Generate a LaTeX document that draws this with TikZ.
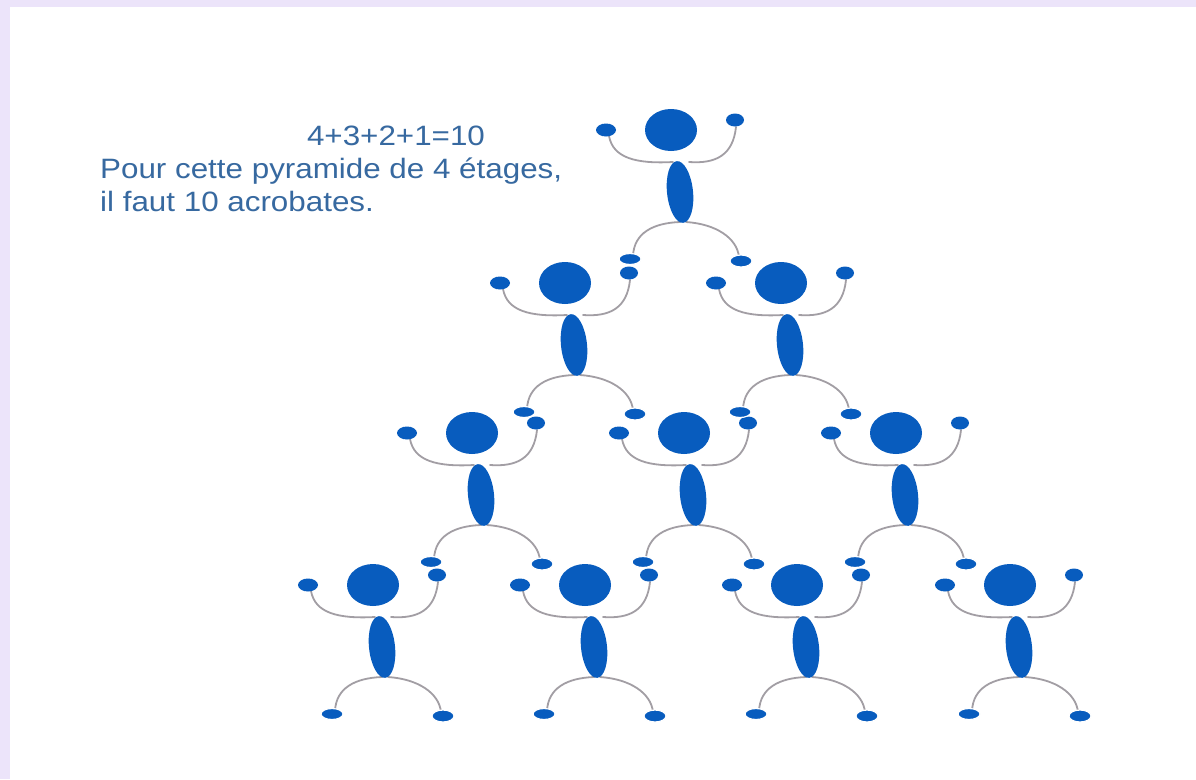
\documentclass[tikz,border=0pt]{standalone}
\usepackage{fontspec}
\newfontfamily\notefont{Liberation Sans}[FakeStretch=1.12]
\definecolor{acroblue}{RGB}{8,92,190}
\definecolor{limbgray}{RGB}{162,158,164}
\definecolor{notecol}{RGB}{55,105,160}
\definecolor{framecol}{RGB}{236,228,250}
\tikzset{
  part/.style={fill=acroblue},
  foot/.style={fill=acroblue, draw=white, line width=1.2pt},
  limb/.style={draw=limbgray, line width=1.8pt, line cap=round},
  note/.style={font=\notefont\fontsize{28}{33}\selectfont, text=notecol, inner sep=0pt},
  pics/acrobat/.style={code={
    % arms
    \draw[limb] (-62,6) .. controls (-58,28) and (-35,34) .. (2,32);
    \draw[limb] (18,32) .. controls (45,34) and (62,25) .. (65,-3);
    % legs
    \draw[limb] (9,92) .. controls (-18,93) and (-37,103) .. (-38,126);
    \draw[limb] (15,92) .. controls (45,94) and (66,108) .. (68,127);
    % head and body
    \fill[part] (0,0) ellipse [x radius=26, y radius=21];
    \fill[part, shift={(9,62)}, rotate=6] (0,0) ellipse [x radius=13, y radius=31];
    % hands
    \fill[part] (-65,0) ellipse [x radius=10, y radius=6.5];
    \fill[part] (64,-10) ellipse [x radius=9, y radius=6.5];
    % feet
    \filldraw[foot] (-41,129) ellipse [x radius=11, y radius=5.5];
    \filldraw[foot] (70,131) ellipse [x radius=11, y radius=6];
  }}
}
\begin{document}
\begin{tikzpicture}[x=1pt, y=-1pt]
  \useasboundingbox (0,0) rectangle (1196,779);
  \fill[framecol] (0,0) rectangle (1196,779);
  \fill[white] (10,7) rectangle (1196,779);

  % bottom row first, so that the feet above lie over the hands below
  \pic (a41) at (373,585) {acrobat};
  \pic (a42) at (585,585) {acrobat};
  \pic (a43) at (797,585) {acrobat};
  \pic (a44) at (1010,585) {acrobat};
  \pic (a31) at (472,433) {acrobat};
  \pic (a32) at (684,433) {acrobat};
  \pic (a33) at (896,433) {acrobat};
  \pic (a21) at (565,283) {acrobat};
  \pic (a22) at (781,283) {acrobat};
  \pic (a11) at (671,130) {acrobat};

  \node[note, anchor=base] (sum) at (396,145) {4+3+2+1=10};
  \node[note, anchor=base west] (line1) at (100,178) {Pour cette pyramide de 4 étages,};
  \node[note, anchor=base west] (line2) at (100,211) {il faut 10 acrobates.};
\end{tikzpicture}
\end{document}
